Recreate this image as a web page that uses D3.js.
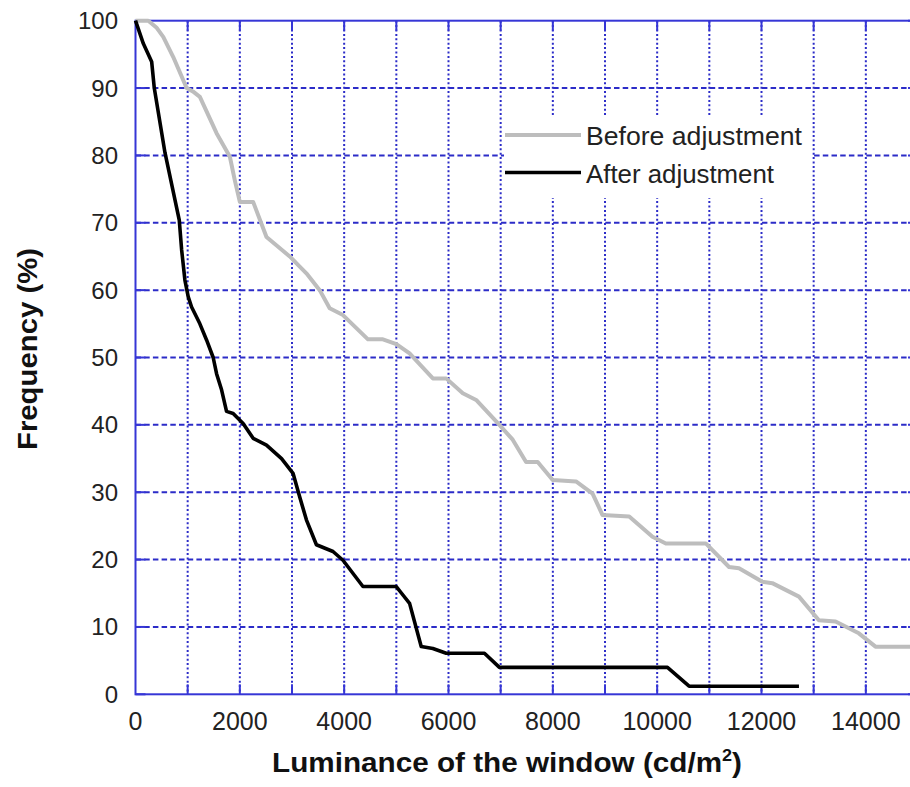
<!DOCTYPE html>
<html>
<head>
<meta charset="utf-8">
<script src="https://cdn.jsdelivr.net/npm/d3@7"></script>
<style>
  html, body { margin: 0; padding: 0; background: #fff; }
  svg { display: block; font-family: "Liberation Sans", Arial, Helvetica, sans-serif; }
</style>
</head>
<body>
<svg id="chart" width="910" height="787"></svg>
<script>
// ---- data ----
const xTicks = [0, 2000, 4000, 6000, 8000, 10000, 12000, 14000];
const xGrid = [1000, 2000, 3000, 4000, 5000, 6000, 7000, 8000, 9000, 10000, 11000, 12000, 13000, 14000];
const yTicks = [0, 10, 20, 30, 40, 50, 60, 70, 80, 90, 100];
const seriesNames = ["Before adjustment", "After adjustment"];

const beforeX = [0, 245, 400, 532, 724, 980, 1100, 1234, 1554, 1809, 1904, 2000, 2255, 2511, 2957, 3148, 3276, 3531, 3722, 3977, 4456, 4743, 5000, 5254, 5700, 5956, 6274, 6530, 6976, 7231, 7487, 7710, 7997, 8444, 8762, 8953, 9464, 9910, 10166, 10932, 11378, 11569, 12016, 12207, 12718, 13100, 13420, 13866, 14185, 15000];
const beforeY = [100, 100, 99, 97.6, 94.6, 90, 89.5, 88.7, 83.3, 79.8, 76.3, 73.1, 73.1, 67.9, 65, 63.5, 62.5, 60, 57.3, 56.3, 52.7, 52.7, 52, 50.6, 46.9, 46.9, 44.7, 43.7, 40, 37.8, 34.5, 34.5, 31.8, 31.6, 29.8, 26.6, 26.4, 23.4, 22.4, 22.4, 18.9, 18.7, 16.7, 16.5, 14.5, 11, 10.8, 9.05, 7.07, 7.07];

const afterX = [0, 150, 310, 360, 565, 839, 884, 947, 1011, 1075, 1234, 1362, 1489, 1554, 1650, 1745, 1872, 2063, 2255, 2511, 2800, 3020, 3148, 3276, 3468, 3786, 3977, 4360, 4999, 5100, 5254, 5477, 5700, 5956, 6689, 6976, 10197, 10612, 12718];
const afterY = [100, 96.6, 93.9, 90, 80.4, 70.4, 66, 61.5, 59, 57.5, 55, 52.6, 50, 47.6, 45.2, 42, 41.7, 40.2, 38, 37, 35, 32.8, 29.3, 25.9, 22.2, 21.2, 19.9, 16, 16, 15, 13.5, 7.1, 6.8, 6.1, 6.1, 4, 4, 1.2, 1.2];

// ---- chart ----
const svg = d3.select("#chart");
const x = d3.scaleLinear().domain([0, 15000]).range([135.5, 918]);
const y = d3.scaleLinear().domain([0, 100]).range([694.3, 20.7]);
const blue = "#3636d6";
const gridBlue = "#2c2cc8";

// grid
const g = svg.append("g");
g.selectAll(".vg").data(xGrid).join("line")
  .attr("x1", d => x(d)).attr("x2", d => x(d))
  .attr("y1", y(100)).attr("y2", y(0))
  .attr("stroke", gridBlue).attr("stroke-width", 2).attr("stroke-dasharray", "2,2.4");
g.selectAll(".hg").data(yTicks.filter(d => d > 0 && d < 100)).join("line")
  .attr("x1", x(0)).attr("x2", x(15000))
  .attr("y1", d => y(d)).attr("y2", d => y(d))
  .attr("stroke", gridBlue).attr("stroke-width", 2).attr("stroke-dasharray", "5.5,3.2");

// ticks (inward)
const tl = 10;
g.selectAll(".tb").data(xGrid).join("line")
  .attr("x1", d => x(d)).attr("x2", d => x(d))
  .attr("y1", y(0)).attr("y2", y(0) - tl).attr("stroke", blue).attr("stroke-width", 2);
g.selectAll(".tt").data(xGrid).join("line")
  .attr("x1", d => x(d)).attr("x2", d => x(d))
  .attr("y1", y(100)).attr("y2", y(100) + tl).attr("stroke", blue).attr("stroke-width", 2);
g.selectAll(".tlft").data(yTicks).join("line")
  .attr("x1", x(0)).attr("x2", x(0) + tl)
  .attr("y1", d => y(d)).attr("y2", d => y(d)).attr("stroke", blue).attr("stroke-width", 2);
g.selectAll(".trgt").data(yTicks).join("line")
  .attr("x1", x(15000)).attr("x2", x(15000) - tl)
  .attr("y1", d => y(d)).attr("y2", d => y(d)).attr("stroke", blue).attr("stroke-width", 2);

// frame
svg.append("rect")
  .attr("x", x(0)).attr("y", y(100))
  .attr("width", x(15000) - x(0)).attr("height", y(0) - y(100))
  .attr("fill", "none").attr("stroke", blue).attr("stroke-width", 2);

// lines
const line = d3.line().x(d => x(d[0])).y(d => y(d[1]));
const beforeData = beforeX.map((v, i) => [v, beforeY[i]]);
const afterData = afterX.map((v, i) => [v, afterY[i]]);
svg.append("path").datum(beforeData).attr("d", line)
  .attr("fill", "none").attr("stroke", "#bdbdbd").attr("stroke-width", 4)
  .attr("stroke-linejoin", "round");
svg.append("path").datum(afterData).attr("d", line)
  .attr("fill", "none").attr("stroke", "#000").attr("stroke-width", 3.6)
  .attr("stroke-linejoin", "round");

// legend (covers grid)
svg.append("rect").attr("x", 504).attr("y", 117).attr("width", 307).attr("height", 81).attr("fill", "#fff");
const legColors = ["#bdbdbd", "#000"];
const legWidths = [4, 3.6];
const legText = [216, 188];
seriesNames.forEach((name, i) => {
  const ly = 135 + i * 37.5;
  svg.append("line").attr("x1", 505).attr("x2", 581).attr("y1", ly).attr("y2", ly)
    .attr("stroke", legColors[i]).attr("stroke-width", legWidths[i]);
  svg.append("text").attr("x", 586).attr("y", ly + 10)
    .attr("font-size", 25).attr("fill", "#222")
    .attr("textLength", legText[i]).attr("lengthAdjust", "spacingAndGlyphs")
    .text(name);
});

// tick labels
svg.selectAll(".xl").data(xTicks).join("text")
  .attr("x", d => x(d)).attr("y", 730)
  .attr("text-anchor", "middle").attr("font-size", 25).attr("fill", "#222")
  .text(d => d);
svg.selectAll(".yl").data(yTicks).join("text")
  .attr("x", 118).attr("y", d => y(d) + 8.5)
  .attr("text-anchor", "end").attr("font-size", 24).attr("fill", "#222")
  .text(d => d);

// axis titles
const xt = svg.append("text").attr("x", 507).attr("y", 772)
  .attr("text-anchor", "middle").attr("font-size", 28).attr("font-weight", "bold").attr("fill", "#111")
  .attr("textLength", 470).attr("lengthAdjust", "spacingAndGlyphs");
xt.append("tspan").text("Luminance of the window (cd/m");
xt.append("tspan").attr("font-size", 17).attr("dy", -11).text("2");
xt.append("tspan").attr("dy", 11).text(")");

svg.append("text")
  .attr("transform", "translate(37,349) rotate(-90)")
  .attr("text-anchor", "middle").attr("font-size", 28).attr("font-weight", "bold").attr("fill", "#111")
  .attr("textLength", 202).attr("lengthAdjust", "spacingAndGlyphs")
  .text("Frequency (%)");
</script>
</body>
</html>
